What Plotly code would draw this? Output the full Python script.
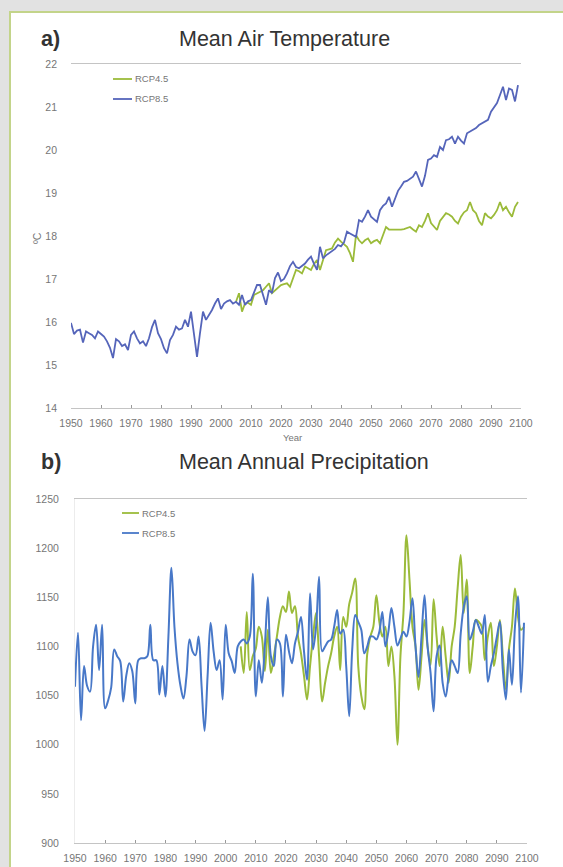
import plotly.graph_objects as go

W, H = 563, 867

# ---- data -------------------------------------------------------------
# Mean air temperature (°C); RCP8.5 series carries the historical run from 1950
temp_start_rcp85 = 1950
temp_rcp85 = [
    15.98, 15.72, 15.80, 15.82, 15.52, 15.78, 15.74, 15.70, 15.62, 15.78,
    15.72, 15.66, 15.55, 15.40, 15.16, 15.60, 15.55, 15.44, 15.48, 15.35,
    15.70, 15.78, 15.62, 15.50, 15.55, 15.44, 15.62, 15.88, 16.05, 15.74,
    15.60, 15.39, 15.27, 15.58, 15.70, 15.89, 15.82, 15.85, 16.05, 15.89,
    16.24, 15.74, 15.19, 15.74, 16.24, 16.05, 16.16, 16.28, 16.43, 16.55,
    16.30, 16.43, 16.48, 16.51, 16.43, 16.47, 16.40, 16.63, 16.40, 16.48,
    16.51, 16.67, 16.86, 16.86, 16.60, 16.40, 16.74, 16.67, 17.02, 17.15,
    16.95, 17.00, 17.13, 17.30, 17.40, 17.28, 17.25, 17.30, 17.36, 17.45,
    17.52, 17.35, 17.21, 17.75, 17.48, 17.55, 17.60, 17.67, 17.70, 17.79,
    17.76, 17.85, 18.10, 18.06, 18.02, 17.98, 18.37, 18.33, 18.45, 18.60,
    18.45, 18.40, 18.33, 18.60, 18.70, 18.76, 18.91, 18.68, 18.85, 19.05,
    19.15, 19.26, 19.28, 19.32, 19.38, 19.50, 19.30, 19.15, 19.40, 19.77,
    19.80, 19.88, 19.84, 20.07, 20.00, 20.23, 20.25, 20.31, 20.15, 20.31,
    20.22, 20.15, 20.39, 20.43, 20.48, 20.51, 20.58, 20.62, 20.66, 20.70,
    20.89, 21.00, 21.09, 21.28, 21.47, 21.16, 21.43, 21.40, 21.13, 21.51,
]
temp_start_rcp45 = 2005
temp_rcp45 = [
    16.47, 16.67, 16.24, 16.43, 16.45, 16.40, 16.63, 16.67, 16.70, 16.74,
    16.82, 16.90, 16.67, 16.74, 16.80, 16.86, 16.88, 16.90, 16.82, 17.00,
    17.21, 17.18, 17.13, 17.29, 17.25, 17.21, 17.35, 17.44, 17.21, 17.45,
    17.67, 17.69, 17.71, 17.85, 17.94, 17.87, 17.80, 17.75, 17.60, 17.40,
    18.02, 17.90, 17.83, 17.90, 17.94, 17.83, 17.88, 17.91, 17.83, 18.00,
    18.21, 18.15, 18.15, 18.14, 18.14, 18.15, 18.16, 18.18, 18.21, 18.15,
    18.10, 18.25, 18.21, 18.35, 18.53, 18.30, 18.21, 18.14, 18.35, 18.45,
    18.53, 18.50, 18.45, 18.35, 18.29, 18.45, 18.55, 18.60, 18.79, 18.60,
    18.53, 18.35, 18.25, 18.53, 18.45, 18.41, 18.49, 18.60, 18.79, 18.60,
    18.68, 18.55, 18.45, 18.68, 18.79,
]

# Mean annual precipitation (mm)
precip_start_rcp85 = 1950
precip_rcp85 = [
    1059, 1114, 1025, 1080, 1060, 1054, 1100, 1122, 1076, 1122,
    1037, 1045, 1058, 1097, 1090, 1085, 1044, 1070, 1083, 1075,
    1042, 1086, 1088, 1088, 1090, 1122, 1086, 1086, 1051, 1080,
    1049, 1110, 1180, 1120, 1083, 1060, 1047, 1070, 1107, 1095,
    1091, 1110, 1060, 1014, 1070, 1124, 1095, 1076, 1086, 1046,
    1122, 1093, 1085, 1073, 1100, 1105, 1107, 1103, 1110, 1174,
    1049, 1086, 1063, 1100, 1150, 1090, 1080, 1107, 1103, 1049,
    1112, 1095, 1083, 1103, 1115, 1130, 1095, 1066, 1154, 1097,
    1120, 1171, 1095, 1100, 1105, 1107, 1120, 1137, 1113, 1117,
    1080, 1029, 1097, 1132, 1125, 1117, 1093, 1100, 1110, 1110,
    1107, 1115, 1135, 1100, 1115, 1139, 1120, 1101, 1108, 1115,
    1110, 1125, 1149, 1100, 1069, 1110, 1152, 1100, 1073, 1034,
    1090, 1101, 1063, 1049, 1070, 1086, 1080, 1073, 1113, 1140,
    1151, 1107, 1115, 1127, 1120, 1113, 1132, 1064, 1080, 1093,
    1110, 1125, 1075, 1046, 1097, 1061, 1120, 1151, 1053, 1124,
]
precip_start_rcp45 = 2005
precip_rcp45 = [
    1100, 1073, 1135, 1076, 1090, 1098, 1120, 1110, 1075, 1117,
    1073, 1090, 1110, 1130, 1141, 1135, 1156, 1134, 1141, 1110,
    1093, 1070, 1046, 1080, 1110, 1134, 1090, 1044, 1063, 1080,
    1093, 1110, 1120, 1076, 1130, 1120, 1143, 1155, 1169, 1080,
    1050, 1036, 1093, 1110, 1120, 1152, 1125, 1110, 1120, 1080,
    1100, 1070, 1000, 1090, 1134, 1213, 1168, 1120, 1100, 1056,
    1090, 1127, 1100, 1081, 1148, 1110, 1080, 1120, 1090, 1063,
    1100, 1120, 1160, 1193, 1134, 1168, 1073, 1100, 1127, 1125,
    1120, 1086, 1110, 1124, 1080, 1100, 1127, 1090, 1056, 1097,
    1120, 1159, 1130, 1117, 1120,
]

series_names = ["RCP4.5", "RCP8.5"]
decade_ticks = list(range(1950, 2101, 10))
temp_ticks = list(range(14, 23))
precip_ticks = list(range(900, 1251, 50))

# ---- styling ----------------------------------------------------------
GREEN = "#9BBB3A"
BLUE_T = "#5565BA"
BLUE_P = "#4878C8"
TICK_FONT = dict(family="Liberation Sans, Arial, sans-serif", size=10.5, color="#767676")
TITLE_FONT = dict(family="Liberation Sans, Arial, sans-serif", size=21.5, color="#333333")


def px(x):
    return x / W


def py(y):
    return 1 - y / H


def years(start, values):
    return list(range(start, start + len(values)))


fig = go.Figure()

# panel a: temperature
fig.add_trace(go.Scatter(x=years(temp_start_rcp45, temp_rcp45), y=temp_rcp45,
                         mode="lines", name=series_names[0],
                         line=dict(color=GREEN, width=1.8),
                         xaxis="x", yaxis="y"))
fig.add_trace(go.Scatter(x=years(temp_start_rcp85, temp_rcp85), y=temp_rcp85,
                         mode="lines", name=series_names[1],
                         line=dict(color=BLUE_T, width=1.8),
                         xaxis="x", yaxis="y"))

# panel b: precipitation (smoothed lines)
fig.add_trace(go.Scatter(x=years(precip_start_rcp45, precip_rcp45), y=precip_rcp45,
                         mode="lines", name=series_names[0],
                         line=dict(color=GREEN, width=2, shape="spline", smoothing=1.0),
                         xaxis="x2", yaxis="y2"))
fig.add_trace(go.Scatter(x=years(precip_start_rcp85, precip_rcp85), y=precip_rcp85,
                         mode="lines", name=series_names[1],
                         line=dict(color=BLUE_P, width=2, shape="spline", smoothing=1.0),
                         xaxis="x2", yaxis="y2"))

common_x = dict(range=[1950, 2100], tickvals=decade_ticks,
                ticktext=[str(t) for t in decade_ticks], tickfont=TICK_FONT,
                showgrid=False, zeroline=False, showline=True, mirror=True,
                linecolor="#c4c4c4", linewidth=1, ticks="inside", ticklen=3,
                tickcolor="#9a9a9a", ticklabelstandoff=5, automargin=False,
                fixedrange=True)
common_y = dict(tickfont=TICK_FONT, showgrid=False, zeroline=False,
                ticks="", ticklabelstandoff=13, automargin=False, fixedrange=True)

fig.update_layout(
    template="none",
    width=W, height=H,
    margin=dict(l=0, r=0, t=0, b=0, pad=0, autoexpand=False),
    paper_bgcolor="#e2e2e2",
    plot_bgcolor="rgba(0,0,0,0)",
    showlegend=False,
    xaxis=dict(common_x, domain=[px(71), px(521)], anchor="y"),
    yaxis=dict(common_y, domain=[py(408), py(64)], range=[14, 22],
               tickvals=temp_ticks, anchor="x"),
    xaxis2=dict(common_x, domain=[px(75), px(527)], anchor="y2"),
    yaxis2=dict(common_y, domain=[py(843), py(499)], range=[900, 1250],
                tickvals=precip_ticks, anchor="x2", showline=True,
                linecolor="#ececec"),
)

# white card with a light green frame
fig.add_shape(type="rect", xref="paper", yref="paper",
              x0=px(10), x1=px(W + 20), y0=py(H + 20), y1=py(12),
              fillcolor="white", line=dict(color="#c3d48a", width=2), layer="below")

annotations = [
    dict(text="<b>a)</b>", x=px(39), y=py(39)),
    dict(text="Mean Air Temperature", x=px(177), y=py(39)),
    dict(text="<b>b)</b>", x=px(39), y=py(462)),
    dict(text="Mean Annual Precipitation", x=px(177), y=py(462)),
]
for a in annotations:
    fig.add_annotation(xref="paper", yref="paper", xanchor="left", yanchor="middle",
                       showarrow=False, font=TITLE_FONT, **a)

fig.add_annotation(text="Year", xref="paper", yref="paper", x=px(292), y=py(437),
                   xanchor="center", yanchor="middle", showarrow=False,
                   font=dict(TICK_FONT, size=9.5))
fig.add_annotation(text="ºC", xref="paper", yref="paper", x=px(37), y=py(238),
                   xanchor="center", yanchor="middle", showarrow=False, textangle=-90,
                   font=dict(TICK_FONT, size=10.5))

# legends drawn inside each panel
legend_rows = [
    (113, 132, 79, GREEN, series_names[0]),
    (113, 132, 99, BLUE_T, series_names[1]),
    (122, 139, 513, GREEN, series_names[0]),
    (122, 139, 533, BLUE_P, series_names[1]),
]
for x0, x1, yy, color, label in legend_rows:
    fig.add_shape(type="line", xref="paper", yref="paper",
                  x0=px(x0), x1=px(x1), y0=py(yy), y1=py(yy),
                  line=dict(color=color, width=1.8))
    fig.add_annotation(text=label, xref="paper", yref="paper", x=px(x1 + 1), y=py(yy),
                       xanchor="left", yanchor="middle", showarrow=False,
                       font=dict(TICK_FONT, size=9.5))

fig.write_html("out.html")
